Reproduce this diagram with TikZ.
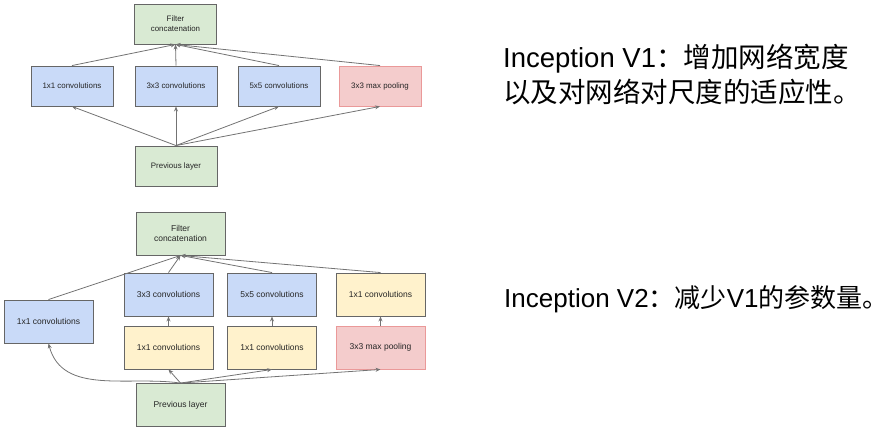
\documentclass[tikz,border=0pt]{standalone}
\usepackage{fontspec}
\setmainfont{Liberation Sans}
\newfontfamily\cjk{Noto Sans CJK SC}
\usepackage{xcolor}
\usetikzlibrary{arrows.meta,positioning}

\definecolor{boxgray}{HTML}{666666}
\definecolor{arrowgray}{HTML}{737373}
\definecolor{bluefill}{HTML}{C9DAF8}
\definecolor{greenfill}{HTML}{D9EAD3}
\definecolor{redfill}{HTML}{F4CCCC}
\definecolor{redline}{HTML}{EA9999}
\definecolor{yellowfill}{HTML}{FFF2CC}

\tikzset{
  layer/.style={draw=boxgray, line width=0.9pt, inner sep=0pt, align=center, text=black!85},
  smallA/.style={layer, minimum width=82pt, minimum height=40pt, font=\fontsize{7.9}{9.8}\selectfont},
  smallB/.style={layer, minimum width=89pt, minimum height=43pt, font=\fontsize{8.5}{10.8}\selectfont},
  convbox/.style={fill=bluefill},
  concatbox/.style={fill=greenfill},
  poolbox/.style={fill=redfill, draw=redline},
  reducebox/.style={fill=yellowfill},
  flow/.style={draw=arrowgray, line width=0.8pt, -{Stealth[length=5pt,width=4pt]}},
}

\begin{document}
\begin{tikzpicture}[x=1pt,y=-1pt]
    \useasboundingbox (0,0) rectangle (896,432);

    % Inception V1
    \node[smallA, concatbox] (concatA) at (175.5,24) {Filter\\concatenation};
    \node[smallA, convbox] (convOneA) at (72,86) {1x1 convolutions};
    \node[smallA, convbox] (convThreeA) at (176,86) {3x3 convolutions};
    \node[smallA, convbox] (convFiveA) at (279,86) {5x5 convolutions};
    \node[smallA, poolbox] (poolA) at (380,86) {3x3 max pooling};
    \node[smallA, concatbox] (prevA) at (176,166) {Previous layer};

    \foreach \b in {convOneA,convThreeA,convFiveA,poolA} {
        \draw[flow] (prevA.north) -- (\b.south);
        \draw[flow] (\b.north) -- (concatA.south);
    }

    % Inception V2
    \node[smallB, concatbox] (concatB) at (180.5,233.5) {Filter\\concatenation};
    \node[smallB, convbox] (convOneB) at (48.5,321.5) {1x1 convolutions};
    \node[smallB, convbox] (convThreeB) at (168.5,294.5) {3x3 convolutions};
    \node[smallB, convbox] (convFiveB) at (272,294.5) {5x5 convolutions};
    \node[smallB, reducebox] (convOneC) at (380.5,294.5) {1x1 convolutions};
    \node[smallB, reducebox] (reduceThree) at (168.5,347.5) {1x1 convolutions};
    \node[smallB, reducebox] (reduceFive) at (272,347.5) {1x1 convolutions};
    \node[smallB, poolbox] (poolB) at (380.5,347.5) {3x3 max pooling};
    \node[smallB, concatbox] (prevB) at (180.5,405) {Previous layer};

    \draw[flow] (prevB.north) to[out=172,in=-75] (convOneB.south);
    \foreach \b in {reduceThree,reduceFive,poolB}
        \draw[flow] (prevB.north) -- (\b.south);
    \draw[flow] (reduceThree) -- (convThreeB);
    \draw[flow] (reduceFive) -- (convFiveB);
    \draw[flow] (poolB) -- (convOneC);
    \foreach \b in {convOneB,convThreeB,convFiveB,convOneC}
        \draw[flow] (\b.north) -- (concatB.south);

    % Notes
    \node[anchor=north west, inner sep=0pt, align=left, font=\fontsize{27.5}{35}\selectfont] (noteV1) at (503,44)
        {Inception V1{\cjk ：增加网络宽度}\\{\cjk 以及对网络对尺度的适应性。}};
    \node[anchor=base west, inner sep=0pt, font=\fontsize{26}{34}\selectfont] (noteV2) at (504,307)
        {Inception V2{\cjk ：减少}V1{\cjk 的参数量。}};
\end{tikzpicture}
\end{document}
